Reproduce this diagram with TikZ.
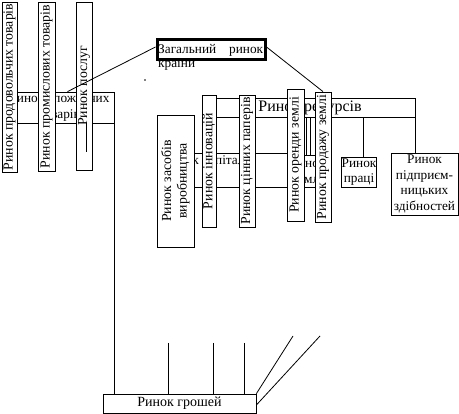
\documentclass[tikz,border=0pt]{standalone}
\usepackage{fontspec}
\setmainfont{Liberation Serif}
\begin{document}
\begin{tikzpicture}[x=1pt,y=-1pt,
	box/.style={draw,fill=white,line width=0.8pt,inner sep=0pt,align=center,font=\fontsize{13.3}{15.5}\selectfont},
	vbox/.style={box,rotate=90,font=\fontsize{13.8}{15.5}\selectfont},
	link/.style={draw,line width=0.8pt}
]
\useasboundingbox (0,0) rectangle (459,414);
% consumer goods
	\node[box,minimum width=109,minimum height=31] (spozh) at (59.5,107.5) {Ринок споживчих\\товарів};
	\node[vbox,minimum width=170,minimum height=15] (prodov) at (9.5,87) {Ринок продовольчих товарів};
	\node[vbox,minimum width=169,minimum height=17] (promysl) at (46.5,86.5) {Ринок промислових товарів};
	\node[vbox,minimum width=168,minimum height=16] (posluh) at (84,86) {Ринок послуг};
	\coordinate (posluhend) at (86,152);
	\draw[link] (spozh.south -| posluhend) -- (posluhend);

% whole market
	\node[box,line width=3pt,minimum width=108,minimum height=20] (zag) at (211,50) {};
	\node[anchor=base west,inner sep=0pt,text width=105,align=left,font=\fontsize{13.3}{14}\selectfont] (zagtext) at (158,54) {Загальний\hfill ринок\\країни};
	\fill (145,80) circle [radius=0.8pt];

% resources
	\node[box,align=left,text width=132,inner xsep=4pt,minimum height=34] (kapital) at (230,170) {Ринок капіталу\\\strut};
	\node[box,minimum width=38,minimum height=32] (zemlia) at (308,171) {Ринок\\землі};
	\node[box,minimum width=210,minimum height=19,font=\fontsize{16}{18}\selectfont] (resurs) at (310,107.5) {Ринок ресурсів};
	\node[vbox,minimum width=132,minimum height=37] (zasoby) at (175.5,181) {Ринок засобів\\виробництва};
	\node[vbox,minimum width=132,minimum height=14] (innov) at (209,161) {Ринок інновацій};
	\node[vbox,minimum width=132,minimum height=16] (papery) at (247,161) {Ринок цінних паперів};
	\node[vbox,minimum width=132,minimum height=17] (orenda) at (295.5,155) {Ринок оренди землі};
	\node[vbox,minimum width=130,minimum height=16] (prodazh) at (323,157) {Ринок продажу землі};
	\node[box,minimum width=34,minimum height=30] (pratsia) at (359,172) {Ринок\\праці};
	\node[box,minimum width=67,minimum height=62] (pidpr) at (424.5,184) {Ринок\\підприєм-\\ницьких\\здібностей};

	\draw[link] ([xshift=-1.5pt]zemlia.north) -- ([xshift=-1.5pt]zemlia.north |- resurs.south);
	\draw[link] ([xshift=2.5pt]zemlia.north) -- ([xshift=2.5pt]zemlia.north |- resurs.south);
	\draw[link] ([xshift=4pt]pratsia.north) -- ([xshift=4pt]pratsia.north |- resurs.south);
	\draw[link] (resurs.south east) -- (resurs.south east |- pidpr.north);

	\draw[link] ([yshift=3pt]zag.west) -- ([xshift=8pt]spozh.north);
	\draw[link] ([yshift=3pt]zag.east) -- (prodazh.east);

% money
	\node[box,minimum width=153,minimum height=19,font=\fontsize{14}{16}\selectfont] (groshi) at (179.5,403.5) {Ринок грошей};
	\draw[link] (spozh.south east) -- (spozh.south east |- groshi.north);
	\foreach \x/\n in {168/a,213/b,244/c}{
		\coordinate (top\n) at (\x,343);
		\draw[link] (top\n) -- (top\n |- groshi.north);
	}
	\coordinate (diag1) at (293,336);
	\coordinate (diag2) at (320,336);
	\draw[link] (groshi.north east) -- (diag1);
	\draw[link] ([yshift=-1.5pt]groshi.east) -- (diag2);
\end{tikzpicture}
\end{document}
